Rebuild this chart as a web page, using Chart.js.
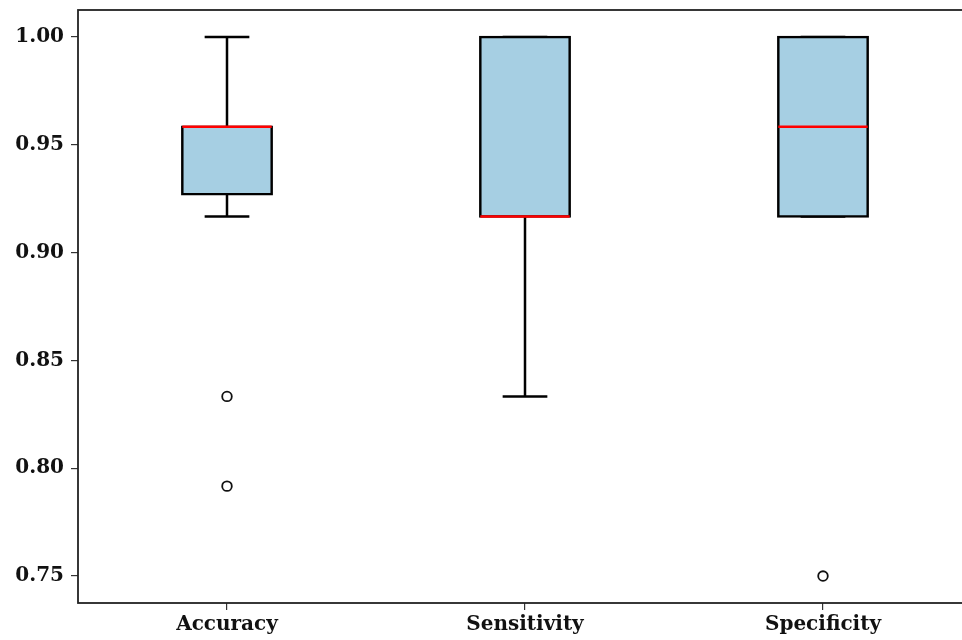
<!DOCTYPE html>
<html>
<head>
<meta charset="utf-8">
<title>Accuracy / Sensitivity / Specificity</title>
<script src="https://cdn.jsdelivr.net/npm/chart.js@4/dist/chart.umd.min.js"></script>
<style>
  html, body { margin: 0; padding: 0; background: #ffffff; overflow: hidden; }
  #wrap { width: 980px; height: 640px; }
  canvas { display: block; }
</style>
</head>
<body>
<div id="wrap"><canvas id="chart" width="980" height="640"></canvas></div>
<script>
// Box-plot summary per metric
const categories  = ['Accuracy', 'Sensitivity', 'Specificity'];
const whiskerLow  = [0.9167, 0.8333, 0.9167];
const quartile1   = [0.9271, 0.9167, 0.9167];
const medians     = [0.9583, 0.9167, 0.9583];
const quartile3   = [0.9583, 1.0000, 1.0000];
const whiskerHigh = [1.0000, 1.0000, 1.0000];
const outliers    = [[0.8333, 0.7917], [], [0.75]];
const yTickValues = [0.75, 0.80, 0.85, 0.90, 0.95, 1.00];

// Geometry in axis units
const BOX_WIDTH = 0.3;
const CAP_HALF = BOX_WIDTH / 4;
const pos = categories.map((_, i) => i + 1);

const boxData = pos.map((x, i) => ({ x, y: [quartile1[i], quartile3[i]] }));

const whiskerData = [];
pos.forEach((x, i) => {
  whiskerData.push({ x, y: quartile1[i] }, { x, y: whiskerLow[i] }, { x, y: null });
  whiskerData.push({ x, y: quartile3[i] }, { x, y: whiskerHigh[i] }, { x, y: null });
});

const capData = [];
pos.forEach((x, i) => {
  capData.push({ x: x - CAP_HALF, y: whiskerLow[i] }, { x: x + CAP_HALF, y: whiskerLow[i] }, { x, y: null });
  capData.push({ x: x - CAP_HALF, y: whiskerHigh[i] }, { x: x + CAP_HALF, y: whiskerHigh[i] }, { x, y: null });
});

const medianData = [];
pos.forEach((x, i) => {
  medianData.push({ x: x - BOX_WIDTH / 2, y: medians[i] }, { x: x + BOX_WIDTH / 2, y: medians[i] }, { x, y: null });
});

const outlierData = [];
pos.forEach((x, i) => outliers[i].forEach(v => outlierData.push({ x, y: v })));

// Axes frame on all four sides
const frame = {
  id: 'frame',
  afterDraw(chart) {
    const { ctx, chartArea: a } = chart;
    ctx.save();
    ctx.strokeStyle = '#222222';
    ctx.lineWidth = 1.8;
    ctx.strokeRect(a.left, a.top, a.right - a.left, a.bottom - a.top);
    ctx.restore();
  }
};

const tickFont = { family: "'DejaVu Serif', serif", weight: 'bold', size: 20 };
const LINE_W = 2.5;

new Chart(document.getElementById('chart'), {
  type: 'bar',
  data: {
    datasets: [
      {
        type: 'scatter',
        data: outlierData,
        pointStyle: 'circle',
        pointRadius: 4.8,
        pointBackgroundColor: '#ffffff',
        pointBorderColor: '#111111',
        pointBorderWidth: 1.8,
        order: 0
      },
      {
        type: 'line',
        data: medianData,
        borderColor: '#ff0000',
        borderWidth: LINE_W,
        pointRadius: 0,
        spanGaps: false,
        order: 1
      },
      {
        type: 'bar',
        data: boxData,
        backgroundColor: '#a6cfe3',
        borderColor: '#000000',
        borderWidth: LINE_W,
        inflateAmount: LINE_W / 2,
        borderSkipped: false,
        barPercentage: BOX_WIDTH,
        categoryPercentage: 1,
        order: 2
      },
      {
        type: 'line',
        data: whiskerData,
        borderColor: '#000000',
        borderWidth: LINE_W,
        pointRadius: 0,
        spanGaps: false,
        order: 3
      },
      {
        type: 'line',
        data: capData,
        borderColor: '#000000',
        borderWidth: LINE_W,
        pointRadius: 0,
        spanGaps: false,
        order: 3
      }
    ]
  },
  options: {
    responsive: false,
    animation: false,
    layout: { padding: { top: 10, right: 8, left: 0, bottom: 0 } },
    plugins: { legend: { display: false }, tooltip: { enabled: false } },
    scales: {
      x: {
        type: 'linear',
        min: 0.5,
        max: 3.5,
        offset: false,
        grid: { offset: false, drawOnChartArea: false, color: '#333333', lineWidth: 1.2, tickLength: 7 },
        border: { display: false },
        ticks: {
          font: tickFont,
          color: '#111111',
          padding: 3,
          maxRotation: 0,
          callback: (v) => categories[Math.round(v) - 1] || ''
        },
        afterBuildTicks: (s) => { s.ticks = pos.map(v => ({ value: v })); },
        afterFit: (s) => { s.height = 37; s.paddingLeft = 0; s.paddingRight = 0; }
      },
      y: {
        type: 'linear',
        min: 0.7375,
        max: 1.0125,
        grid: { drawOnChartArea: false, color: '#333333', lineWidth: 1.2, tickLength: 7 },
        border: { display: false },
        ticks: {
          font: tickFont,
          color: '#111111',
          padding: 7,
          callback: (v) => Number(v).toFixed(2)
        },
        afterBuildTicks: (s) => { s.ticks = yTickValues.map(v => ({ value: v })); },
        afterFit: (s) => { s.width = 78; s.paddingTop = 0; s.paddingBottom = 0; }
      }
    }
  },
  plugins: [frame]
});
</script>
</body>
</html>
